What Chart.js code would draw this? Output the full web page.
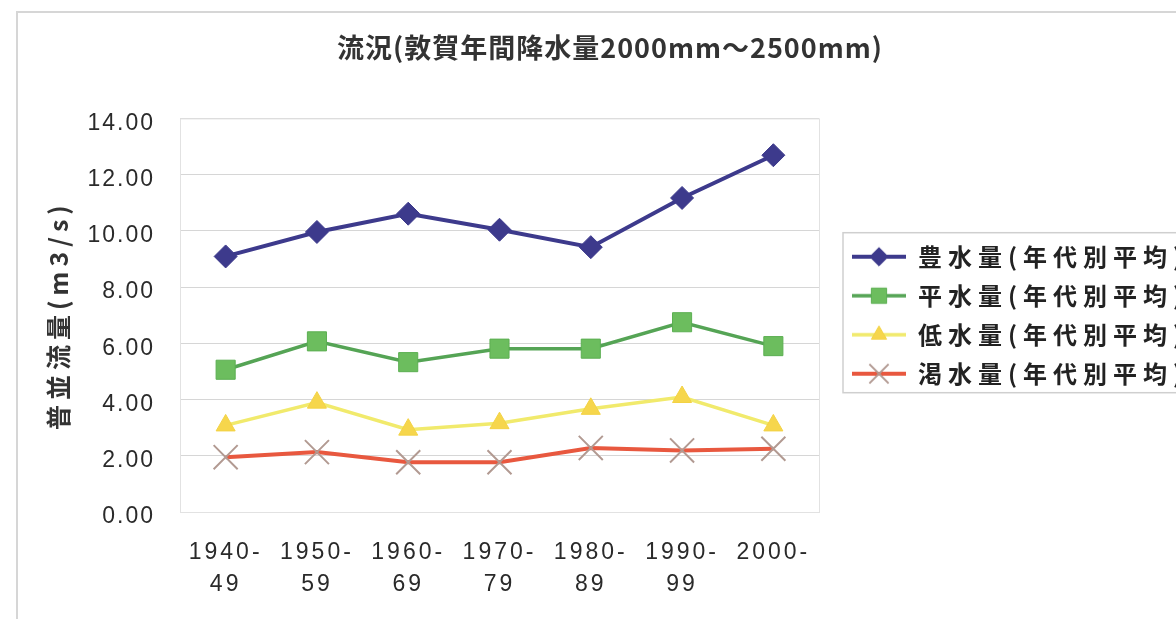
<!DOCTYPE html>
<html>
<head>
<meta charset="utf-8">
<script src="https://cdn.jsdelivr.net/npm/chart.js@4.4.1/dist/chart.umd.min.js"></script>
<style>
  html, body { margin: 0; padding: 0; background: #fff; overflow: hidden; }
  #wrap { position: relative; width: 1176px; height: 619px; overflow: hidden; }
  #c { position: absolute; left: 0; top: 0; }
</style>
</head>
<body>
<div id="wrap"><canvas id="c" width="1220" height="619"></canvas></div>
<script>
// ---- data ----
const decades = [['1940-', '49'], ['1950-', '59'], ['1960-', '69'], ['1970-', '79'], ['1980-', '89'], ['1990-', '99'], ['2000-']];
const seriesNames = ['豊水量(年代別平均)', '平水量(年代別平均)', '低水量(年代別平均)', '渇水量(年代別平均)'];
const highFlow    = [9.09, 9.96, 10.61, 10.04, 9.42, 11.17, 12.69];
const normalFlow  = [5.06, 6.07, 5.33, 5.81, 5.81, 6.75, 5.90];
const lowFlow     = [3.08, 3.89, 2.93, 3.16, 3.67, 4.09, 3.08];
const droughtFlow = [1.95, 2.13, 1.77, 1.77, 2.28, 2.19, 2.25];
const yTickValues = [0, 2, 4, 6, 8, 10, 12, 14];
const chartTitle = '流況(敦賀年間降水量2000mm～2500mm)';
const yAxisTitle = '普並流量(m3/s)';

// ---- styles ----
const FONT = '"Noto Sans CJK JP", "Noto Sans", sans-serif';
const NUM_FONT = '"Liberation Sans", Arial, sans-serif';
const seriesStyles = [
  { line: '#3d3a8c', lineWidth: 4,   marker: 'rectRot',  radius: 11.5, fill: '#3d3a8c', stroke: '#3d3a8c', border: 1 },
  { line: '#55a455', lineWidth: 3.5, marker: 'rect',     radius: 13.5, fill: '#6cbd5e', stroke: '#5caf52', border: 1 },
  { line: '#f1ea6c', lineWidth: 3.5, marker: 'triangle', radius: 11,   fill: '#f6d64c', stroke: '#f3d244', border: 1 },
  { line: '#e8583f', lineWidth: 4,   marker: 'crossRot', radius: 17,   fill: '#b29a92', stroke: '#b29a92', border: 2 }
];
const LAYOUT = { yAxisWidth: 180, xAxisHeight: 107, legendWidth: 401 };
// letter spacing and a small vertical nudge for each text group
const TEXT_TUNING = {
  title:  { ls: '1px',   dy: 0 },
  legend: { ls: '6px',   dy: 0 },
  xTicks: { ls: '3px',   dy: 0 },
  yTicks: { ls: '2px',   dy: 5 },
  yTitle: { ls: '5px',   dy: 0 }
};

// small line+marker swatch for the legend
function legendIcon(s) {
  const c = document.createElement('canvas');
  c.width = 72; c.height = 28;
  const g = c.getContext('2d');
  g.strokeStyle = s.line; g.lineWidth = s.lineWidth;
  g.beginPath(); g.moveTo(18, 14); g.lineTo(72, 14); g.stroke();
  g.fillStyle = s.fill; g.strokeStyle = s.stroke; g.lineWidth = s.border;
  Chart.helpers.drawPoint(g, { pointStyle: s.marker, radius: s.radius * 0.8, borderWidth: s.border, rotation: 0 }, 45, 14);
  return c;
}
const legendIcons = seriesStyles.map(legendIcon);

function tuneText(obj, method, t) {
  if (!obj || obj['__tuned_' + method]) return;
  const fn = obj[method];
  obj[method] = function (...args) {
    const c = this.ctx;
    c.save();
    c.letterSpacing = t.ls;
    c.translate(0, t.dy);
    try { return fn.apply(this, args); } finally { c.restore(); }
  };
  obj['__tuned_' + method] = true;
}

const decor = {
  id: 'decor',
  beforeLayout(chart) {
    const lg = chart.legend;
    if (lg && !lg.__fixedWidth) {
      const fit = lg.fit;
      lg.fit = function () { fit.call(this); this.width = LAYOUT.legendWidth; };
      lg.__fixedWidth = true;
    }
  },
  beforeDraw(chart) {
    const { ctx } = chart;
    ctx.save();
    ctx.strokeStyle = '#d6d6d6';
    ctx.lineWidth = 2;
    ctx.beginPath();
    ctx.moveTo(17, chart.height + 5);
    ctx.lineTo(17, 12);
    ctx.lineTo(chart.width + 5, 12);
    ctx.stroke();
    ctx.restore();
    tuneText(chart.titleBlock, 'draw', TEXT_TUNING.title);
    tuneText(chart.legend, 'draw', TEXT_TUNING.legend);
    tuneText(chart.scales.x, 'drawLabels', TEXT_TUNING.xTicks);
    tuneText(chart.scales.y, 'drawLabels', TEXT_TUNING.yTicks);
    tuneText(chart.scales.y, 'drawTitle', TEXT_TUNING.yTitle);
  },
  beforeDatasetsDraw(chart) {
    const { ctx, chartArea: a } = chart;
    ctx.save();
    ctx.strokeStyle = '#e2e2e2';
    ctx.lineWidth = 1;
    ctx.strokeRect(a.left + 0.5, a.top + 0.5, a.right - a.left, a.bottom - a.top);
    ctx.restore();
  },
  afterDraw(chart) {
    const lg = chart.legend;
    if (!lg || !lg.legendHitBoxes || !lg.legendHitBoxes.length) return;
    const hb = lg.legendHitBoxes;
    const top = hb[0].top - 12;
    const bottom = hb[hb.length - 1].top + hb[hb.length - 1].height + 7;
    const { ctx } = chart;
    ctx.save();
    ctx.strokeStyle = '#cfcfcf';
    ctx.lineWidth = 1.5;
    ctx.strokeRect(lg.left + 24, top, chart.width, bottom - top);
    ctx.restore();
  }
};

const seriesData = [highFlow, normalFlow, lowFlow, droughtFlow];
const datasets = seriesData.map((values, i) => {
  const s = seriesStyles[i];
  return {
    label: seriesNames[i],
    data: values,
    borderColor: s.line,
    borderWidth: s.lineWidth,
    backgroundColor: s.fill,
    pointStyle: s.marker,
    pointRadius: s.radius,
    pointHoverRadius: s.radius,
    pointBackgroundColor: s.fill,
    pointBorderColor: s.stroke,
    pointBorderWidth: s.border,
    tension: 0,
    fill: false
  };
});

new Chart(document.getElementById('c'), {
  type: 'line',
  data: { labels: decades, datasets },
  plugins: [decor],
  options: {
    responsive: false,
    animation: false,
    devicePixelRatio: 1,
    layout: { padding: 0 },
    plugins: {
      tooltip: { enabled: false },
      title: {
        display: true,
        text: chartTitle,
        color: '#333',
        font: { family: FONT, size: 27, weight: 'bold' },
        padding: { top: 32, bottom: 54 }
      },
      legend: {
        position: 'right',
        fullSize: false,
        align: 'center',
        labels: {
          usePointStyle: true,
          pointStyleWidth: 72,
          padding: 15,
          color: '#222',
          font: { family: FONT, size: 24, weight: 'bold' },
          generateLabels(chart) {
            const items = Chart.defaults.plugins.legend.labels.generateLabels(chart);
            items.forEach((it, i) => { it.pointStyle = legendIcons[i]; });
            return items;
          }
        }
      }
    },
    scales: {
      x: {
        offset: true,
        grid: { display: false, drawTicks: false },
        border: { display: true, color: '#d6d6d6' },
        ticks: {
          color: '#2a2a2a',
          font: { family: NUM_FONT, size: 23, lineHeight: 1.39 },
          padding: 25,
          maxRotation: 0,
          autoSkip: false
        },
        afterFit(scale) { scale.height = LAYOUT.xAxisHeight; }
      },
      y: {
        min: yTickValues[0],
        max: yTickValues[yTickValues.length - 1],
        afterBuildTicks(scale) { scale.ticks = yTickValues.map(v => ({ value: v })); },
        grid: { color: '#d6d6d6', lineWidth: 1, drawTicks: false },
        border: { display: true, color: '#d6d6d6' },
        ticks: {
          color: '#2a2a2a',
          font: { family: NUM_FONT, size: 23 },
          padding: 25,
          callback: v => Number(v).toFixed(2)
        },
        title: {
          display: true,
          text: yAxisTitle,
          color: '#333',
          font: { family: FONT, size: 25, weight: 'bold' },
          padding: { top: 43, bottom: 0 }
        },
        afterFit(scale) { scale.width = LAYOUT.yAxisWidth; }
      }
    }
  }
});
</script>
</body>
</html>
